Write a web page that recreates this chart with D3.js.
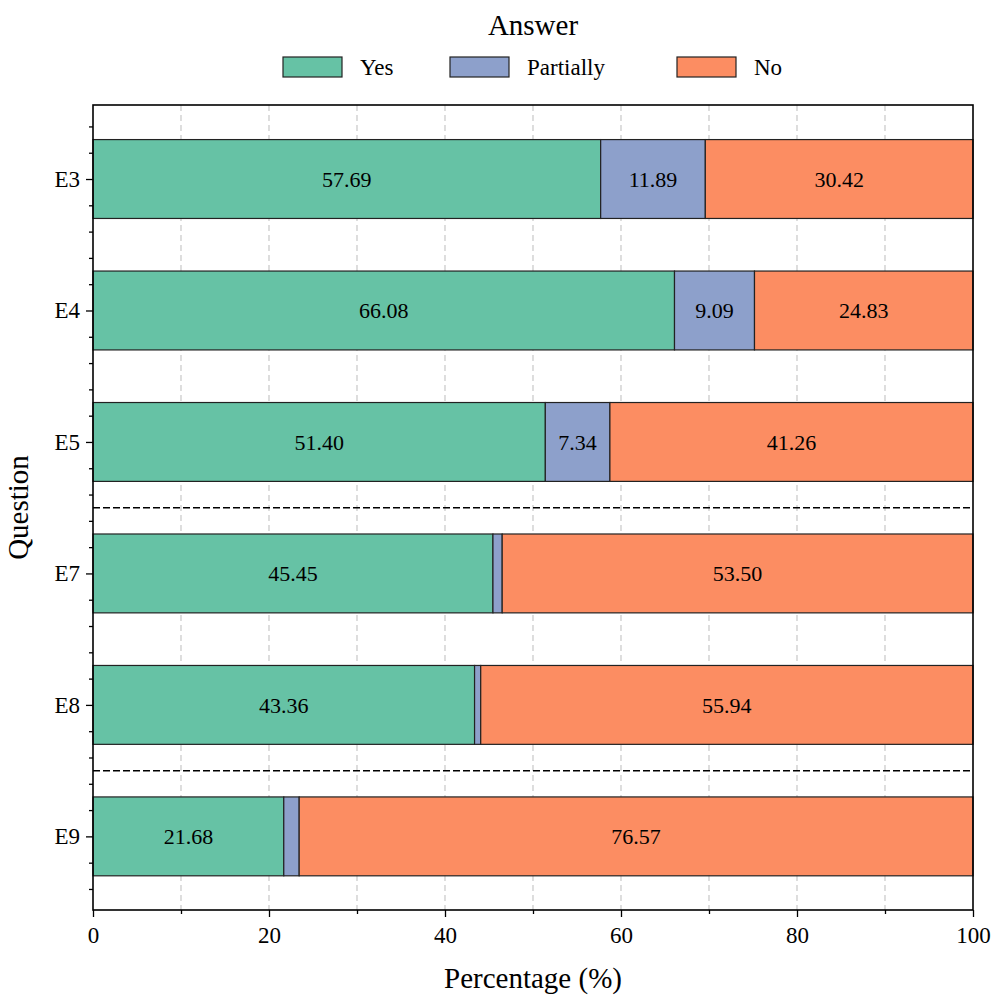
<!DOCTYPE html>
<html>
<head>
<meta charset="utf-8">
<script src="https://cdn.jsdelivr.net/npm/d3@7"></script>
<style>
  body { margin: 0; background: #fff; }
  text { font-family: "Liberation Serif", "DejaVu Serif", serif; fill: #000; }
</style>
</head>
<body>
<div id="chart"></div>
<script>
// Data
const questions = ["E3", "E4", "E5", "E7", "E8", "E9"];
const yesValues = [57.69, 66.08, 51.40, 45.45, 43.36, 21.68];
const partiallyValues = [11.89, 9.09, 7.34, 1.05, 0.70, 1.75];
const noValues = [30.42, 24.83, 41.26, 53.50, 55.94, 76.57];
const answers = ["Yes", "Partially", "No"];
const colors = ["#66c2a5", "#8da0cb", "#fc8d62"];
const separators = [2.5, 4.5]; // between groups
const xTicks = [0, 20, 40, 60, 80, 100];

const margin = { top: 105, right: 23, bottom: 90, left: 93 },
  width = 996 - margin.left - margin.right,
  height = 1000 - margin.top - margin.bottom;

const svg = d3
  .select("#chart")
  .append("svg")
  .attr("width", 996)
  .attr("height", 1000);

const g = svg.append("g").attr("transform", `translate(${margin.left},${margin.top})`);

// Scales
const x = d3.scaleLinear().domain([0, 100]).range([0, width]);
const y = d3.scaleLinear().domain([-0.563, 5.56]).range([0, height]);
const barH = 0.6;

// Grid lines (dashed, every 10)
g.append("g")
  .selectAll("line")
  .data(d3.range(10, 100, 10))
  .enter()
  .append("line")
  .attr("x1", (d) => x(d))
  .attr("x2", (d) => x(d))
  .attr("y1", 0)
  .attr("y2", height)
  .attr("stroke", "#cccccc")
  .attr("stroke-width", 1.3)
  .attr("stroke-dasharray", "6,4");

// Stacked bars
const rows = questions.map((q, i) => [yesValues[i], partiallyValues[i], noValues[i]]);
rows.forEach((vals, i) => {
  let start = 0;
  vals.forEach((v, j) => {
    g.append("rect")
      .attr("x", x(start))
      .attr("y", y(i - barH / 2))
      .attr("width", x(start + v) - x(start))
      .attr("height", y(barH) - y(0))
      .attr("fill", colors[j])
      .attr("stroke", "#222")
      .attr("stroke-width", 1.2);
    // label only the wider segments
    if (v > 5) {
      g.append("text")
        .attr("x", x(start + v / 2))
        .attr("y", y(i))
        .attr("dy", "0.35em")
        .attr("text-anchor", "middle")
        .style("font-size", "22px")
        .text(v.toFixed(2));
    }
    start += v;
  });
});

// Separators
g.selectAll(".sep")
  .data(separators)
  .enter()
  .append("line")
  .attr("class", "sep")
  .attr("x1", 0)
  .attr("x2", width)
  .attr("y1", (d) => y(d))
  .attr("y2", (d) => y(d))
  .attr("stroke", "#000")
  .attr("stroke-width", 1.5)
  .attr("stroke-dasharray", "7,3");

// X axis
const xAxis = g.append("g").attr("transform", `translate(0,${height})`);
xAxis.call(d3.axisBottom(x).tickValues(xTicks).tickSize(7).tickPadding(10));
xAxis.append("g")
  .call(d3.axisBottom(x).tickValues(d3.range(10, 100, 20)).tickSize(4).tickFormat(""));
xAxis.selectAll("text").style("font-size", "23px");

// Y axis
const yAxis = g.append("g");
yAxis.call(
  d3.axisLeft(y)
    .tickValues(d3.range(questions.length))
    .tickFormat((d) => questions[d])
    .tickSize(7)
    .tickPadding(6)
);
const minorY = d3.range(-0.4, 5.5, 0.2).filter((d) => Math.abs(d - Math.round(d)) > 0.01);
yAxis.append("g").call(d3.axisLeft(y).tickValues(minorY).tickSize(4).tickFormat(""));
yAxis.selectAll("text").style("font-size", "23px");

svg.selectAll(".domain").remove();
svg.selectAll(".tick line").attr("stroke", "#000").attr("stroke-width", 1.3);

// Frame
g.append("rect")
  .attr("width", width)
  .attr("height", height)
  .attr("fill", "none")
  .attr("stroke", "#000")
  .attr("stroke-width", 1.6);

// Axis titles
svg.append("text")
  .attr("x", margin.left + width / 2)
  .attr("y", 988)
  .attr("text-anchor", "middle")
  .style("font-size", "29px")
  .text("Percentage (%)");

svg.append("text")
  .attr("transform", `translate(28,${margin.top + height / 2}) rotate(-90)`)
  .attr("text-anchor", "middle")
  .style("font-size", "29px")
  .text("Question");

// Legend
svg.append("text")
  .attr("x", 533)
  .attr("y", 35)
  .attr("text-anchor", "middle")
  .style("font-size", "29px")
  .text("Answer");

const legendX = [283, 450, 677];
const legend = svg.selectAll(".legend")
  .data(answers)
  .enter()
  .append("g")
  .attr("class", "legend")
  .attr("transform", (d, i) => `translate(${legendX[i]},57)`);

legend.append("rect")
  .attr("width", 59)
  .attr("height", 20)
  .attr("fill", (d, i) => colors[i])
  .attr("stroke", "#222")
  .attr("stroke-width", 1.2);

legend.append("text")
  .attr("x", 77)
  .attr("y", 10)
  .attr("dy", "0.35em")
  .style("font-size", "23px")
  .text((d) => d);
</script>
</body>
</html>
